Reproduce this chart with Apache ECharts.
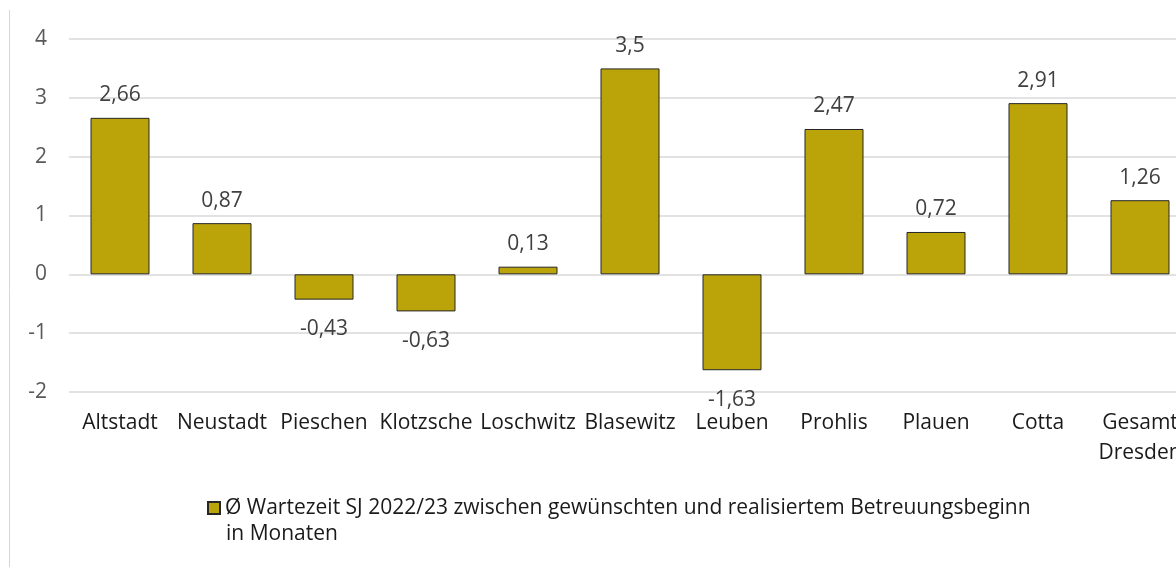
<!DOCTYPE html>
<html><head><meta charset="utf-8">
<script src="https://cdn.jsdelivr.net/npm/echarts@6/dist/echarts.min.js"></script>
<style>html,body{margin:0;padding:0;background:#fff}#c{width:1176px;height:567px}</style>
</head><body><div id="c"></div>
<script>
const categories = ['Altstadt','Neustadt','Pieschen','Klotzsche','Loschwitz','Blasewitz','Leuben','Prohlis','Plauen','Cotta','Gesamt\nDresden'];
const values = [2.66,0.87,-0.43,-0.63,0.13,3.5,-1.63,2.47,0.72,2.91,1.26];
const seriesName = 'Ø Wartezeit SJ 2022/23 zwischen gewünschten und realisiertem Betreuungsbeginn\nin Monaten';
const yTicks = [-2,-1,0,1,2,3,4];

const nameLines = seriesName.split('\n');
const chart = echarts.init(document.getElementById('c'), null, {renderer:'canvas'});
const font = 'Open Sans';
chart.setOption({
  animation:false,
  grid:{left:69, width:1122, top:39, height:353, containLabel:false, outerBoundsMode:'none'},
  xAxis:{type:'category', data:categories,
    axisLine:{show:false}, axisTick:{show:false},
    axisLabel:{color:'#1a1a1a', fontFamily:font, fontSize:21, margin:16, lineHeight:30, interval:0}},
  yAxis:{type:'value', min:yTicks[0], max:yTicks[yTicks.length-1], interval:1,
    axisLine:{show:false}, axisTick:{show:false},
    splitLine:{lineStyle:{color:'#d9d9d9', width:1.5}},
    axisLabel:{color:'#595959', fontFamily:font, fontSize:21, margin:22,
      formatter:v=>String(v)}},
  legend:{left:202, top:489, itemWidth:12, itemHeight:12, itemGap:8,
    formatter:n=>n.split('\n')[0],
    textStyle:{color:'#1a1a1a', fontFamily:font, fontSize:21, lineHeight:28},
    data:[{name:seriesName, icon:'rect'}]},
  series:[{type:'bar', name:seriesName,
    data:values.map(v => v < 0 ? {value:v, label:{distance:19}} : v),
    barWidth:59,
    itemStyle:{color:'#BBA40A', borderColor:'#262626', borderWidth:1},
    label:{show:true, position:'outside', distance:12, color:'#404040', fontFamily:font, fontSize:21,
      formatter:p=>String(p.value).replace('.',',')}}],
  graphic:[
    {type:'line', shape:{x1:9.5,y1:10,x2:9.5,y2:567}, style:{stroke:'#f2f200', lineWidth:1}},
    {type:'text', left:226, top:520, style:{text:nameLines[1], fill:'#1a1a1a', font:'21px "Open Sans"', lineHeight:28}}
  ]
});
</script></body></html>
